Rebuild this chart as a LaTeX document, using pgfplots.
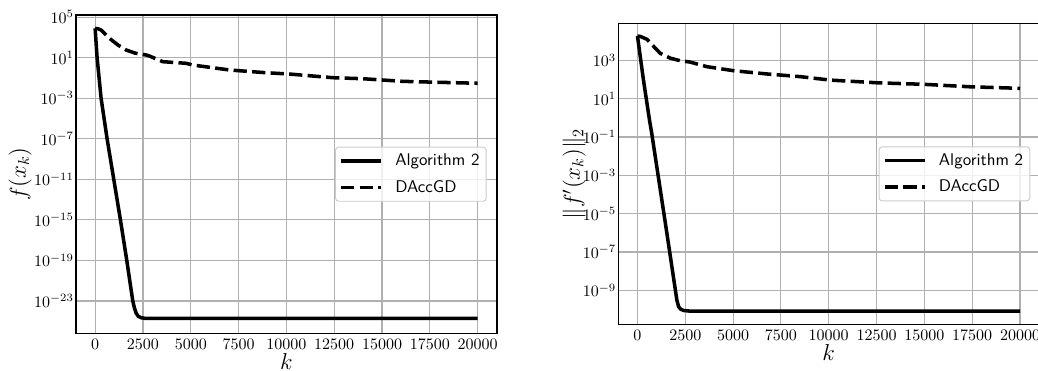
\documentclass[border=0pt]{standalone}
\usepackage{pgfplots}
\pgfplotsset{compat=1.18}
\usepackage{pgfplotstable}
\definecolor{gridc}{RGB}{176,176,176}
\definecolor{legedge}{RGB}{204,204,204}

% x = iteration k, e = log10 of the plotted value
\pgfplotstableread{
x e
0 3.90
103 1.0
312 -3.0
626 -7.0
975 -11.0
1323 -15.0
1655 -19.0
1968 -23.0
2050 -23.65
2144 -24.2
2250 -24.5
2400 -24.65
2600 -24.71
20000 -24.72
}\algL
\pgfplotstableread{
x e
0 3.90
150 3.86
314 3.73
748 2.91
1200 2.25
1621 1.76
2100 1.45
2667 1.27
2840 1.17
3536 0.61
4759 0.45
5105 0.28
7024 -0.21
8944 -0.48
10162 -0.61
12427 -0.97
13996 -1.07
16088 -1.33
17484 -1.40
20000 -1.52
}\daccL
\pgfplotstableread{
x e
0 4.27
314 1.97
628 -0.11
753 -0.85
1538 -6.02
2060 -9.51
2150 -9.85
2250 -9.98
2406 -10.05
2700 -10.08
20000 -10.08
}\algR
\pgfplotstableread{
x e
0 4.27
150 4.25
492 4.10
1187 3.37
1700 3.12
2233 2.98
2756 2.91
3630 2.67
5021 2.46
6768 2.29
8510 2.15
10079 1.97
12521 1.83
14959 1.75
17401 1.62
20000 1.54
}\daccR

\tikzset{
  algstyle/.style={black, line width=2.2pt, line join=round},
  daccstyle/.style={black, line width=2.2pt, dash pattern=on 8.3pt off 3.3pt},
}

\begin{document}
\begin{tikzpicture}
\path[use as bounding box] (0,0) rectangle (648.75pt,231.875pt);

\begin{axis}[
  at={(47.5pt,23.56pt)}, anchor=south west,
  scale only axis, width=263pt, height=198.9pt,
  ymode=log,
  xmin=-1000, xmax=21000,
  ymin=6.457e-27, ymax=1.622e5,
  xtick={0,2500,5000,7500,10000,12500,15000,17500,20000},
  ytick={1e5,1e1,1e-3,1e-7,1e-11,1e-15,1e-19,1e-23},
  scaled x ticks=false,
  xticklabel style={/pgf/number format/1000 sep={}},
  major tick length=0pt,
  yminorticks=false,
  grid=major,
  major grid style={gridc, line width=0.7pt},
  axis line style={line width=0.9pt},
  tick label style={font=\fontsize{10}{12}\selectfont},
  yticklabel style={inner xsep=1.2pt},
  label style={font=\fontsize{14.4}{17}\selectfont},
  xlabel={$k$},
  ylabel={$f(x_k)$},
  xlabel style={at={(axis description cs:0.5,-0.113)}, anchor=base},
  ylabel style={at={(axis description cs:-0.133,0.5)}, anchor=center},
  legend cell align=left,
  legend image code/.code={\draw[#1] (0pt,0pt) -- (25pt,0pt); \path (-0.2pt,0pt) (30.8pt,0pt);},
  legend style={at={(axis description cs:0.976,0.5)}, anchor=east,
    draw=legedge, line width=0.6pt, rounded corners=2pt,
    fill=white, fill opacity=0.8, text opacity=1, draw opacity=1,
    inner xsep=2.2pt, inner ysep=2.2pt,
    font=\sffamily\fontsize{10.6}{12}\selectfont,
    row sep=3.6pt},
]
\addplot[algstyle] table[x=x, y expr=10^(\thisrow{e})] {\algL};
\addlegendentry{Algorithm 2}
\addplot[daccstyle] table[x=x, y expr=10^(\thisrow{e})] {\daccL};
\addlegendentry{DAccGD}
\end{axis}

\begin{axis}[
  at={(386.46pt,29.17pt)}, anchor=south west,
  scale only axis, width=263pt, height=188.1pt,
  ymode=log,
  xmin=-1000, xmax=21000,
  ymin=1.683e-11, ymax=8.51e4,
  xtick={0,2500,5000,7500,10000,12500,15000,17500,20000},
  ytick={1e3,1e1,1e-1,1e-3,1e-5,1e-7,1e-9},
  scaled x ticks=false,
  xticklabel style={/pgf/number format/1000 sep={}},
  major tick length=0pt,
  yminorticks=false,
  grid=major,
  major grid style={gridc, line width=0.7pt},
  axis line style={line width=0.9pt},
  tick label style={font=\fontsize{10}{12}\selectfont},
  yticklabel style={inner xsep=1.2pt},
  label style={font=\fontsize{14.4}{17}\selectfont},
  xlabel={$k$},
  ylabel={$\|f'(x_k)\|_2$},
  xlabel style={at={(axis description cs:0.5,-0.119)}, anchor=base},
  ylabel style={at={(axis description cs:-0.105,0.5)}, anchor=center},
  legend cell align=left,
  legend image code/.code={\draw[#1] (0pt,0pt) -- (25pt,0pt); \path (-0.2pt,0pt) (30.8pt,0pt);},
  legend style={at={(axis description cs:0.979,0.5)}, anchor=east,
    draw=legedge, line width=0.6pt, rounded corners=2pt,
    fill=white, fill opacity=0.8, text opacity=1, draw opacity=1,
    inner xsep=2.2pt, inner ysep=2.2pt,
    font=\sffamily\fontsize{10.6}{12}\selectfont,
    row sep=3.6pt},
]
\addplot[algstyle] table[x=x, y expr=10^(\thisrow{e})] {\algR};
\addlegendentry{Algorithm 2}
\addplot[daccstyle] table[x=x, y expr=10^(\thisrow{e})] {\daccR};
\addlegendentry{DAccGD}
\end{axis}
\end{tikzpicture}
\end{document}
